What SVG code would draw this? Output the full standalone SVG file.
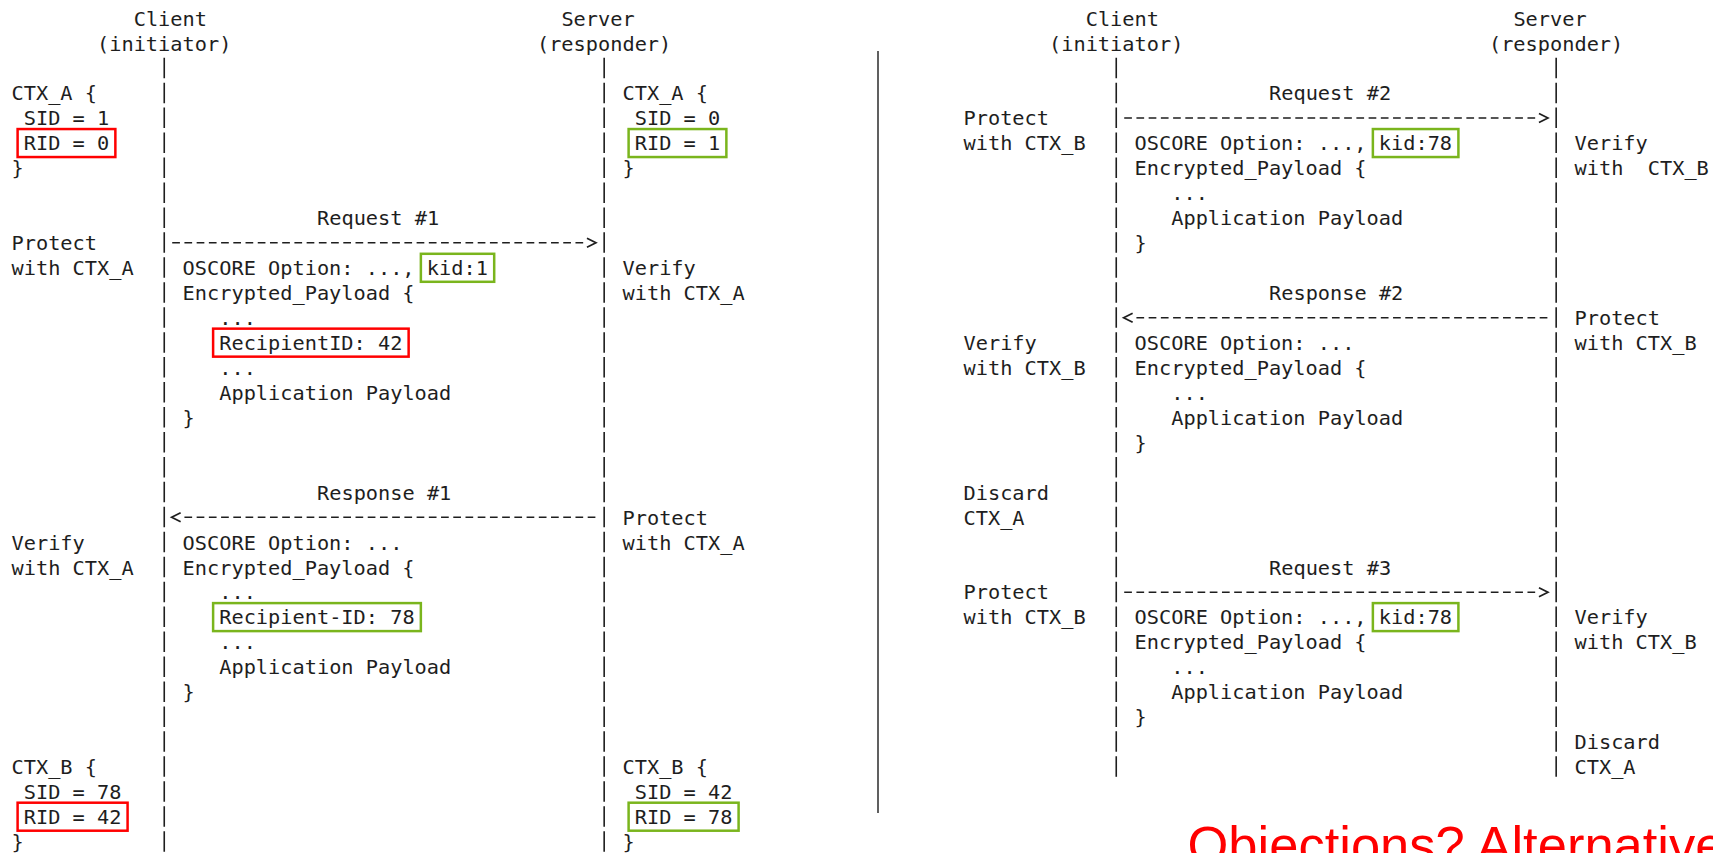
<svg xmlns="http://www.w3.org/2000/svg" width="1713" height="853" viewBox="0 0 1713 853">
<style>
.t{font-family:"DejaVu Sans Mono","Liberation Mono",monospace;font-size:20.3px;fill:#1e1e1e}
.life{stroke:#1e1e1e;stroke-width:1.6;stroke-dasharray:20.5 4.45;fill:none}
.msg{stroke:#1e1e1e;stroke-width:1.5;stroke-dasharray:7.7 4.52;fill:none}
.red{fill:none;stroke:#ff0000;stroke-width:2.5}
.green{fill:none;stroke:#7ab51d;stroke-width:2.5}
.sep{stroke:#606060;stroke-width:2}
.big{font-family:"Liberation Sans",Arial,sans-serif;font-size:52.5px;fill:#ff0000}
</style>
<defs>
<marker id="chev" markerUnits="userSpaceOnUse" markerWidth="20" markerHeight="20" refX="0" refY="10" orient="auto" overflow="visible">
<path d="M3.8,5.5 L12.8,10 L3.8,14.5" fill="none" stroke="#1e1e1e" stroke-width="1.7"/>
</marker>
</defs>
<rect width="1713" height="853" fill="#ffffff"/>

<!-- connectors -->
<g id="connectors">
<line class="life" x1="164.25" y1="57.7" x2="164.25" y2="853"/>
<line class="life" x1="604.17" y1="57.7" x2="604.17" y2="853"/>
<line class="life" x1="1116.25" y1="57.7" x2="1116.25" y2="776.8"/>
<line class="life" x1="1556.17" y1="57.7" x2="1556.17" y2="776.8"/>
<line id="msg-request-1" class="msg" x1="172.21" y1="242.85" x2="583.17" y2="242.85" marker-end="url(#chev)"/>
<line id="msg-response-1" class="msg" x1="595.39" y1="517.3" x2="184.43" y2="517.3" marker-end="url(#chev)"/>
<line id="msg-request-2" class="msg" x1="1124.21" y1="118.1" x2="1535.17" y2="118.1" marker-end="url(#chev)"/>
<line id="msg-response-2" class="msg" x1="1547.39" y1="317.7" x2="1136.43" y2="317.7" marker-end="url(#chev)"/>
<line id="msg-request-3" class="msg" x1="1124.21" y1="592.15" x2="1535.17" y2="592.15" marker-end="url(#chev)"/>
</g>

<g id="separator">
<line class="sep" x1="878" y1="51" x2="878" y2="813"/>
</g>

<!-- LEFT PANEL -->
<g id="left-client-header">
<text class="t" x="133.7" y="25.6">Client</text>
<text class="t" x="97.04" y="50.55">(initiator)</text>
</g>
<g id="left-server-header">
<text class="t" x="561.4" y="25.6">Server</text>
<text class="t" x="536.96" y="50.55">(responder)</text>
</g>

<g id="client-ctx-a">
<text class="t" x="11.5" y="100.45">CTX_A {</text>
<text class="t" x="23.72" y="125.4">SID = 1</text>
<text class="t" x="23.72" y="150.35">RID = 0</text>
<text class="t" x="11.5" y="175.3">}</text>
<rect class="red" x="17.6" y="129.05" width="97.76" height="28"/>
</g>
<g id="server-ctx-a">
<text class="t" x="622.5" y="100.45">CTX_A {</text>
<text class="t" x="634.72" y="125.4">SID = 0</text>
<text class="t" x="634.72" y="150.35">RID = 1</text>
<text class="t" x="622.5" y="175.3">}</text>
<rect class="green" x="628.61" y="129.05" width="97.76" height="28"/>
</g>

<g id="request-1">
<text class="t" x="317" y="225.2">Request #1</text>
<text class="t" x="11.5" y="250.15">Protect</text>
<text class="t" x="11.5" y="275.1">with CTX_A</text>
<text class="t" x="182.58" y="275.1">OSCORE Option: ..., kid:1</text>
<rect class="green" x="420.87" y="253.8" width="73.32" height="28"/>
<text class="t" x="182.58" y="300.05">Encrypted_Payload {</text>
<text class="t" x="219.24" y="325">...</text>
<text class="t" x="219.24" y="349.95">RecipientID: 42</text>
<rect class="red" x="213.11" y="328.65" width="195.52" height="28"/>
<text class="t" x="219.24" y="374.9">...</text>
<text class="t" x="219.24" y="399.85">Application Payload</text>
<text class="t" x="182.58" y="424.8">}</text>
<text class="t" x="622.5" y="275.1">Verify</text>
<text class="t" x="622.5" y="300.05">with CTX_A</text>
</g>

<g id="response-1">
<text class="t" x="317" y="499.65">Response #1</text>
<text class="t" x="622.5" y="524.6">Protect</text>
<text class="t" x="622.5" y="549.55">with CTX_A</text>
<text class="t" x="11.5" y="549.55">Verify</text>
<text class="t" x="11.5" y="574.5">with CTX_A</text>
<text class="t" x="182.58" y="549.55">OSCORE Option: ...</text>
<text class="t" x="182.58" y="574.5">Encrypted_Payload {</text>
<text class="t" x="219.24" y="599.45">...</text>
<text class="t" x="219.24" y="624.4">Recipient-ID: 78</text>
<rect class="green" x="213.11" y="603.1" width="207.74" height="28"/>
<text class="t" x="219.24" y="649.35">...</text>
<text class="t" x="219.24" y="674.3">Application Payload</text>
<text class="t" x="182.58" y="699.25">}</text>
</g>

<g id="client-ctx-b">
<text class="t" x="11.5" y="774.1">CTX_B {</text>
<text class="t" x="23.72" y="799.05">SID = 78</text>
<text class="t" x="23.72" y="824">RID = 42</text>
<text class="t" x="11.5" y="848.95">}</text>
<rect class="red" x="17.6" y="802.7" width="109.98" height="28"/>
</g>
<g id="server-ctx-b">
<text class="t" x="622.5" y="774.1">CTX_B {</text>
<text class="t" x="634.72" y="799.05">SID = 42</text>
<text class="t" x="634.72" y="824">RID = 78</text>
<text class="t" x="622.5" y="848.95">}</text>
<rect class="green" x="628.61" y="802.7" width="109.98" height="28"/>
</g>

<!-- RIGHT PANEL -->
<g id="right-client-header">
<text class="t" x="1085.7" y="25.6">Client</text>
<text class="t" x="1049.04" y="50.55">(initiator)</text>
</g>
<g id="right-server-header">
<text class="t" x="1513.4" y="25.6">Server</text>
<text class="t" x="1488.96" y="50.55">(responder)</text>
</g>

<g id="request-2">
<text class="t" x="1269" y="100.45">Request #2</text>
<text class="t" x="963.5" y="125.4">Protect</text>
<text class="t" x="963.5" y="150.35">with CTX_B</text>
<text class="t" x="1134.58" y="150.35">OSCORE Option: ..., kid:78</text>
<rect class="green" x="1372.87" y="129.05" width="85.54" height="28"/>
<text class="t" x="1134.58" y="175.3">Encrypted_Payload {</text>
<text class="t" x="1171.24" y="200.25">...</text>
<text class="t" x="1171.24" y="225.2">Application Payload</text>
<text class="t" x="1134.58" y="250.15">}</text>
<text class="t" x="1574.5" y="150.35">Verify</text>
<text class="t" x="1574.5" y="175.3" xml:space="preserve">with  CTX_B</text>
</g>

<g id="response-2">
<text class="t" x="1269" y="300.05">Response #2</text>
<text class="t" x="1574.5" y="325">Protect</text>
<text class="t" x="1574.5" y="349.95">with CTX_B</text>
<text class="t" x="963.5" y="349.95">Verify</text>
<text class="t" x="963.5" y="374.9">with CTX_B</text>
<text class="t" x="1134.58" y="349.95">OSCORE Option: ...</text>
<text class="t" x="1134.58" y="374.9">Encrypted_Payload {</text>
<text class="t" x="1171.24" y="399.85">...</text>
<text class="t" x="1171.24" y="424.8">Application Payload</text>
<text class="t" x="1134.58" y="449.75">}</text>
</g>

<g id="client-discard">
<text class="t" x="963.5" y="499.65">Discard</text>
<text class="t" x="963.5" y="524.6">CTX_A</text>
</g>

<g id="request-3">
<text class="t" x="1269" y="574.5">Request #3</text>
<text class="t" x="963.5" y="599.45">Protect</text>
<text class="t" x="963.5" y="624.4">with CTX_B</text>
<text class="t" x="1134.58" y="624.4">OSCORE Option: ..., kid:78</text>
<rect class="green" x="1372.87" y="603.1" width="85.54" height="28"/>
<text class="t" x="1134.58" y="649.35">Encrypted_Payload {</text>
<text class="t" x="1171.24" y="674.3">...</text>
<text class="t" x="1171.24" y="699.25">Application Payload</text>
<text class="t" x="1134.58" y="724.2">}</text>
<text class="t" x="1574.5" y="624.4">Verify</text>
<text class="t" x="1574.5" y="649.35">with CTX_B</text>
</g>

<g id="server-discard">
<text class="t" x="1574.5" y="749.15">Discard</text>
<text class="t" x="1574.5" y="774.1">CTX_A</text>
</g>

<g id="footer">
<text class="big" x="1187.5" y="863">Objections? Alternative</text>
</g>
</svg>
